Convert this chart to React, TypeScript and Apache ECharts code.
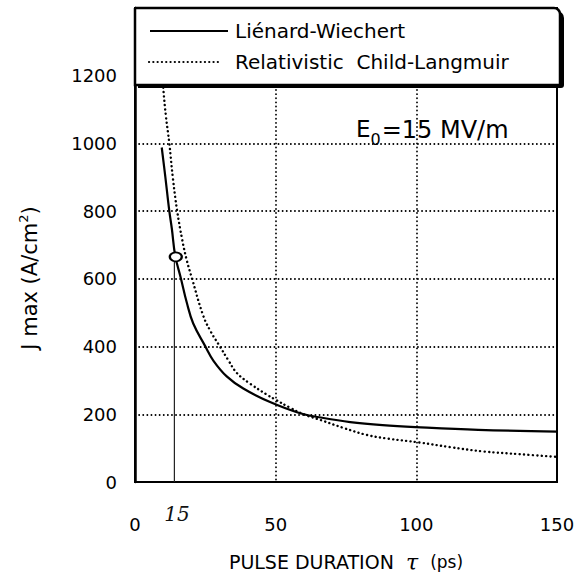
import React, { useEffect, useRef } from 'react';
import * as echarts from 'echarts';

// Liénard-Wiechert (solid)
const lwTau = [9.5, 10.8, 12.2, 13.1, 14.3, 16.3, 18.4, 20.7, 24.9, 27.9, 32.6, 38.5, 48, 58.7, 67, 76.5, 88, 100, 122, 150];
const lwJ = [988, 900, 800, 748, 668, 602, 530, 468, 402, 358, 312, 276, 236, 203, 189, 177, 168, 162, 154, 149];

// Relativistic Child-Langmuir (dotted)
const clTau = [9.6, 10.1, 11, 12.2, 13.5, 15, 16.8, 18.4, 20.3, 24.3, 27, 30.2, 33, 36.2, 41, 46.9, 50, 55, 59.9, 66, 74, 82.4, 90, 100.8, 112, 124, 137, 150];
const clJ = [1230, 1158, 1080, 1000, 895, 800, 715, 655, 600, 490, 443, 400, 362, 322, 290, 258, 243, 220, 200, 183, 160, 139, 128, 117, 103, 90, 82, 74];

// operating point marker and drop line
const markerTau = [14.5];
const markerJ = [665];
const dropTau = [14.0, 14.0];
const dropJ = [0, 655];

const xTicks = [0, 50, 100, 150];
const yTicks = [0, 200, 400, 600, 800, 1000, 1200];
const seriesNames = ['Liénard-Wiechert', 'Relativistic  Child-Langmuir'];

const FONT = 'DejaVu Sans';

export default function App() {
  const ref = useRef<HTMLDivElement>(null);
  useEffect(() => {
    const chart = echarts.init(ref.current!, null, { renderer: 'svg' });
    const pairs = (xs: number[], ys: number[]) => xs.map((x, i) => [x, ys[i]]);
    chart.setOption({
      animation: false,
      backgroundColor: '#fff',
      grid: {
        left: 135, top: 8, right: 23, bottom: 91,
        containLabel: false, outerBoundsMode: 'none',
        show: true, borderColor: '#000', borderWidth: 2, backgroundColor: 'transparent',
      },
      xAxis: {
        type: 'value',
        min: xTicks[0], max: xTicks[xTicks.length - 1], interval: 50,
        axisLine: { show: true, onZero: false, lineStyle: { color: '#000', width: 2 } },
        axisTick: { show: false },
        splitLine: { show: true, lineStyle: { color: '#000', width: 1.8, type: [0.1, 4], cap: 'round' } },
        axisLabel: { color: '#000', fontFamily: FONT, fontSize: 18, margin: 33 },
        name: 'PULSE DURATION  {t|τ}  {p|(ps)}',
        nameLocation: 'middle',
        nameGap: 69,
        nameTextStyle: {
          color: '#000', fontFamily: FONT, fontSize: 19,
          rich: {
            t: { fontFamily: 'DejaVu Serif', fontStyle: 'italic', fontSize: 22, color: '#000' },
            p: { fontFamily: FONT, fontSize: 17, color: '#000' },
          },
        },
      },
      yAxis: {
        type: 'value',
        min: 0, max: 1400, interval: 200,
        axisLine: { show: true, lineStyle: { color: '#000', width: 2.5 } },
        axisTick: { show: false },
        splitLine: { show: true, lineStyle: { color: '#000', width: 1.8, type: [0.1, 4], cap: 'round' } },
        axisLabel: {
          color: '#000', fontFamily: FONT, fontSize: 18, margin: 18,
          formatter: (v: number) => (yTicks.indexOf(v) >= 0 ? String(v) : ''),
        },
      },
      series: [
        {
          name: seriesNames[0], type: 'line', data: pairs(lwTau, lwJ), showSymbol: false, smooth: 0.4,
          lineStyle: { color: '#000', width: 2.2 }, z: 3,
        },
        {
          name: seriesNames[1], type: 'line', data: pairs(clTau, clJ), showSymbol: false, smooth: 0.4,
          lineStyle: { color: '#000', width: 2.4, type: [0.1, 4.3], cap: 'round' }, z: 3,
        },
        {
          name: 'drop', type: 'line', data: pairs(dropTau, dropJ), showSymbol: false,
          lineStyle: { color: '#222', width: 1.2 }, z: 2,
        },
        {
          name: 'point', type: 'scatter', data: pairs(markerTau, markerJ), symbol: 'circle', symbolSize: [12, 9],
          itemStyle: { color: '#fff', borderColor: '#000', borderWidth: 2, opacity: 1 }, z: 5,
        },
      ],
      graphic: [
        { type: 'rect', z: 100, shape: { x: 138, y: 11, width: 426, height: 77, r: [0, 7, 3, 0] }, style: { fill: '#000' } },
        { type: 'rect', z: 101, shape: { x: 135, y: 8, width: 425, height: 77, r: [0, 6, 0, 0] }, style: { fill: '#fff', stroke: '#000', lineWidth: 2.5 } },
        { type: 'line', z: 102, shape: { x1: 150, y1: 31, x2: 228, y2: 31 }, style: { stroke: '#000', lineWidth: 2 } },
        { type: 'line', z: 102, shape: { x1: 149, y1: 62, x2: 218, y2: 62 }, style: { stroke: '#000', lineWidth: 2.2, lineDash: [0.1, 4.2], lineCap: 'round' } },
        { type: 'text', z: 102, x: 235, y: 31, style: { text: seriesNames[0], fill: '#000', fontFamily: FONT, fontSize: 20, textAlign: 'left', textVerticalAlign: 'middle', verticalAlign: 'middle' } },
        { type: 'text', z: 102, x: 235, y: 62, style: { text: seriesNames[1], fill: '#000', fontFamily: FONT, fontSize: 20, textAlign: 'left', textVerticalAlign: 'middle', verticalAlign: 'middle' } },
        // E0 annotation (E with subscript 0)
        {
          type: 'text', z: 102, x: 356, y: 130.5,
          style: {
            text: '{e|E}{s|0}{n|=15 MV/m}',
            textAlign: 'left', textVerticalAlign: 'middle', verticalAlign: 'middle', fill: '#000',
            rich: {
              e: { fontFamily: FONT, fontSize: 23, lineHeight: 26, verticalAlign: 'top', fill: '#000', color: '#000' },
              s: { fontFamily: FONT, fontSize: 16, lineHeight: 16, padding: [14, 1, 0, 0], verticalAlign: 'top', fill: '#000', color: '#000' },
              n: { fontFamily: FONT, fontSize: 24, lineHeight: 26, verticalAlign: 'top', fill: '#000', color: '#000' },
            },
          },
        },
        // handwritten 15 under axis
        { type: 'text', z: 102, x: 177, y: 514, style: { text: '15', fill: '#111', fontFamily: 'DejaVu Serif', fontStyle: 'italic', fontSize: 20, textAlign: 'center', textVerticalAlign: 'middle', verticalAlign: 'middle' } },
        // y axis title
        {
          type: 'text', z: 102, x: 30, y: 278, rotation: Math.PI / 2,
          style: {
            text: '{a|J max (A/cm}{s|2}{a|)}',
            textAlign: 'center', textVerticalAlign: 'middle', verticalAlign: 'middle',
            fill: '#000',
            rich: {
              a: { fontFamily: FONT, fontSize: 21, lineHeight: 26, fill: '#000', color: '#000' },
              s: { fontFamily: FONT, fontSize: 13, lineHeight: 13, verticalAlign: 'top', fill: '#000', color: '#000' },
            },
          },
        },
      ],
    });
    return () => chart.dispose();
  }, []);
  return <div ref={ref} style={{ position: 'fixed', left: 0, top: 0, width: 580, height: 573, background: '#fff' }} />;
}
